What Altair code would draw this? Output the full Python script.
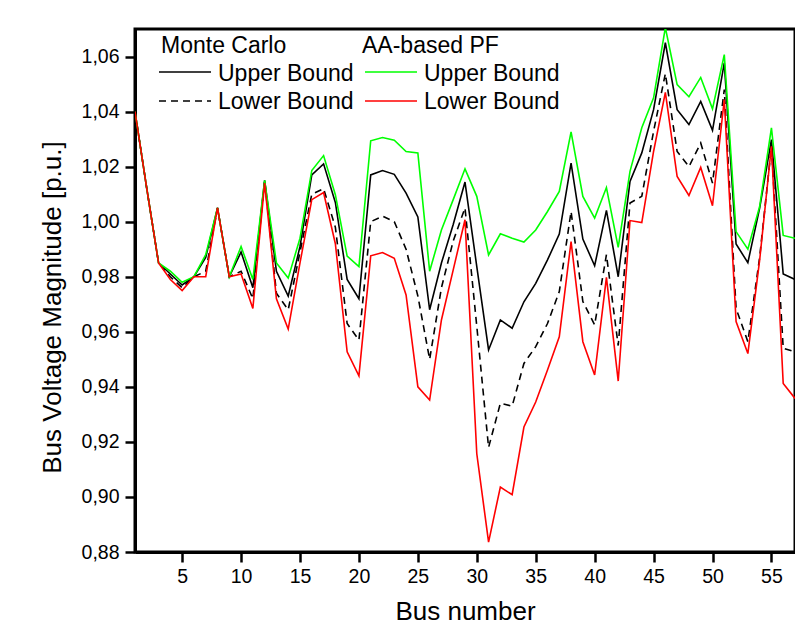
import altair as alt
import pandas as pd

# Bus voltage magnitude bounds (p.u.) per bus
bus = list(range(1, 58))

mc_upper = [1.040, 1.012, 0.985, 0.981, 0.977, 0.980, 0.987, 1.005, 0.980, 0.989,
            0.976, 1.015, 0.982, 0.973, 0.991, 1.017, 1.021, 1.007, 0.979, 0.972,
            1.017, 1.0186, 1.0172, 1.0104, 1.0017, 0.968, 0.985, 0.999, 1.0144, 0.9837,
            0.9534, 0.9643, 0.9613, 0.9709, 0.9776, 0.9861, 0.9955, 1.0213, 0.9937, 0.984,
            1.0041, 0.980, 1.0146, 1.025, 1.0407, 1.065, 1.0407, 1.0353, 1.0437, 1.0332,
            1.0577, 0.9919, 0.9851, 1.0049, 1.0298, 0.981, 0.979]

mc_lower = [1.040, 1.012, 0.985, 0.980, 0.976, 0.980, 0.982, 1.005, 0.980, 0.982,
            0.972, 1.015, 0.974, 0.968, 0.989, 1.010, 1.012, 0.998, 0.963, 0.957,
            1.000, 1.002, 1.000, 0.990, 0.973, 0.950, 0.976, 0.993, 1.005, 0.962,
            0.918, 0.934, 0.933, 0.9485, 0.9546, 0.963, 0.9746, 1.0037, 0.971, 0.9625,
            0.988, 0.955, 1.0068, 1.0092, 1.0328, 1.0538, 1.0255, 1.020, 1.0286, 1.014,
            1.048, 0.9685, 0.9564, 0.987, 1.0274, 0.954, 0.9527]

aa_upper = [1.040, 1.012, 0.985, 0.982, 0.978, 0.980, 0.988, 1.005, 0.980, 0.991,
            0.979, 1.015, 0.985, 0.9795, 0.994, 1.0186, 1.024, 1.0098, 0.9875, 0.9837,
            1.0294, 1.0306, 1.0296, 1.0255, 1.025, 0.982, 0.997, 1.008, 1.0192, 1.0092,
            0.9879, 0.9956, 0.994, 0.9926, 0.997, 1.0037, 1.011, 1.0326, 1.0092, 1.0013,
            1.0124, 0.9907, 1.0183, 1.0341, 1.045, 1.0705, 1.0498, 1.0454, 1.0524, 1.041,
            1.0607, 0.9964, 0.990, 1.0055, 1.0341, 0.995, 0.994]

aa_lower = [1.040, 1.012, 0.985, 0.979, 0.975, 0.980, 0.980, 1.005, 0.980, 0.981,
            0.9685, 1.014, 0.972, 0.961, 0.985, 1.008, 1.0106, 0.992, 0.9527, 0.944,
            0.9876, 0.9888, 0.9867, 0.9734, 0.940, 0.9352, 0.9643, 0.9825, 1.0007, 0.9157,
            0.8836, 0.9036, 0.9008, 0.9254, 0.9345, 0.9461, 0.9582, 0.9928, 0.9564, 0.9443,
            0.9798, 0.9421, 1.0004, 0.9997, 1.0255, 1.047, 1.0164, 1.0095, 1.0197, 1.0058,
            1.0444, 0.9637, 0.9521, 0.986, 1.0274, 0.9412, 0.9358]

x_ticks = [5, 10, 15, 20, 25, 30, 35, 40, 45, 50, 55]
y_ticks = [0.88, 0.90, 0.92, 0.94, 0.96, 0.98, 1.00, 1.02, 1.04, 1.06]

df = pd.DataFrame({
    "bus": bus,
    "mc_upper": mc_upper,
    "mc_lower": mc_lower,
    "aa_upper": aa_upper,
    "aa_lower": aa_lower,
})

FONT = "Liberation Sans"
W, H = 660, 523
GREEN = "#00ff00"
RED = "#ff0000"

x_enc = alt.X(
    "bus:Q",
    scale=alt.Scale(domain=[1, 57], nice=False, zero=False),
    axis=alt.Axis(
        values=x_ticks, title="Bus number", grid=False,
        titleFont=FONT, titleFontSize=26, titleFontWeight="normal", titleColor="black",
        titleX=W / 2, titleY=67, titleAlign="center", titleBaseline="alphabetic",
        labelFont=FONT, labelFontSize=19.5, labelColor="black", labelPadding=5,
        labelFlush=False, tickSize=10, tickWidth=2.5, tickColor="black",
        domainWidth=3, domainColor="black",
    ),
)


def y_enc(field):
    return alt.Y(
        f"{field}:Q",
        scale=alt.Scale(domain=[0.88, 1.07], nice=False, zero=False),
        axis=alt.Axis(
            values=y_ticks, title="Bus Voltage Magnitude [p.u.]", grid=False,
            labelExpr="replace(format(datum.value, '.2f'), '.', ',')",
            titleFont=FONT, titleFontSize=26, titleFontWeight="normal", titleColor="black",
            titleX=-83, titleY=278, titleAngle=270, titleAlign="center", titleBaseline="middle",
            labelFont=FONT, labelFontSize=19.5, labelColor="black", labelPadding=6,
            labelFlush=False, tickSize=10, tickWidth=2.5, tickColor="black",
            domainWidth=3, domainColor="black",
        ),
    )


def series_line(field, color, dash=None):
    opts = dict(color=color, strokeWidth=1.6, clip=True)
    if dash:
        opts["strokeDash"] = dash
    return alt.Chart(df).mark_line(**opts).encode(x=x_enc, y=y_enc(field))


# in-plot legend (two columns with headers)
anchor = pd.DataFrame({"k": [0]})


def legend_text(label, x, y):
    return alt.Chart(anchor).mark_text(
        align="left", baseline="alphabetic", font=FONT, fontSize=23, color="black"
    ).encode(x=alt.value(x), y=alt.value(y), text=alt.value(label))


def legend_line(x1, x2, y, color, dash=None):
    opts = dict(color=color, strokeWidth=1.6)
    if dash:
        opts["strokeDash"] = dash
    return alt.Chart(anchor).mark_rule(**opts).encode(
        x=alt.value(x1), x2=alt.value(x2), y=alt.value(y)
    )


DASH = [7, 5]

layers = [
    series_line("mc_upper", "black"),
    series_line("mc_lower", "black", DASH),
    series_line("aa_upper", GREEN),
    series_line("aa_lower", RED),
    legend_text("Monte Carlo", 26, 24),
    legend_text("AA-based PF", 227, 24),
    legend_line(24, 76, 43, "black"),
    legend_text("Upper Bound", 83, 52),
    legend_line(24, 76, 72, "black", DASH),
    legend_text("Lower Bound", 83, 80),
    legend_line(230, 282, 43, GREEN),
    legend_text("Upper Bound", 289, 52),
    legend_line(230, 282, 72, RED),
    legend_text("Lower Bound", 289, 80),
]

chart = alt.layer(*layers).properties(
    width=W,
    height=H,
    autosize=alt.AutoSizeParams(type="none"),
    padding={"left": 127, "top": 21, "right": 0, "bottom": 72},
    background="white",
).configure_view(
    stroke="black", strokeWidth=3
)

chart.save("out.html", embed_options={"renderer": "svg", "actions": False})
